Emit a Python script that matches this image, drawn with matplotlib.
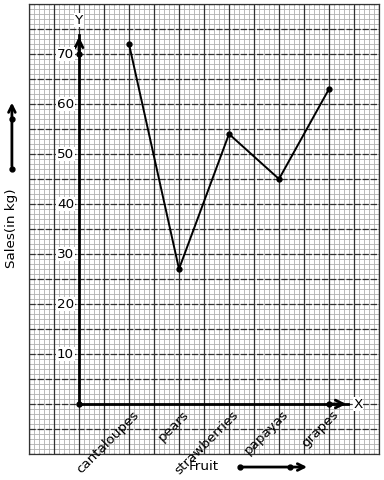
import numpy as np
import matplotlib.pyplot as plt

fruits = ["cantaloupes", "pears", "strawberries", "papayas", "grapes"]
sales = [72, 27, 54, 45, 63]
y_ticks = [10, 20, 30, 40, 50, 60, 70]

fs = 9.7

fig = plt.figure(figsize=(3.84, 4.8), dpi=100)
ax = fig.add_axes([29 / 384, 26 / 480, 350 / 384, 450 / 480])
ax.set_xlim(-1, 6)
ax.set_ylim(-10, 80)

# graph paper grid
for x in np.arange(-1, 6.001, 0.1):
    ax.axvline(x, color="#b0b0b0", lw=0.6, zorder=0)
for y in np.arange(-10, 80.001, 1):
    ax.axhline(y, color="#b0b0b0", lw=0.6, zorder=0)
for x in np.arange(-1, 6.001, 0.5):
    ax.axvline(x, color="#333333", lw=0.9, zorder=1)
for y in np.arange(-10, 80.001, 5):
    ax.axhline(y, color="#333333", lw=0.9, ls=(0, (5, 1.5)), zorder=1)

ax.set_xticks([])
ax.set_yticks([])
for s in ax.spines.values():
    s.set_color("#333333")
    s.set_linewidth(0.9)

# axes with arrows
ax.plot([0, 0], [0, 73.8], color="black", lw=2, zorder=3)
ax.plot([0, 5.38], [0, 0], color="black", lw=2, zorder=3)
ax.annotate("", xy=(0, 74), xytext=(0, 70),
            arrowprops=dict(arrowstyle="->", color="black", lw=2, mutation_scale=14), zorder=3)
ax.annotate("", xy=(5.4, 0), xytext=(5.0, 0),
            arrowprops=dict(arrowstyle="->", color="black", lw=2, mutation_scale=14), zorder=3)
ax.text(0, 76.8, "Y", ha="center", va="center", fontsize=fs,
        bbox=dict(facecolor="white", edgecolor="none", pad=0.5), zorder=4)
ax.text(5.58, 0, "X", ha="center", va="center", fontsize=fs,
        bbox=dict(facecolor="white", edgecolor="none", pad=0.5), zorder=4)
ax.plot([0, 0, 5], [0, 70, 0], "o", color="black", ms=3.5, zorder=4)

for v in y_ticks:
    ax.text(-0.1, v, str(v), ha="right", va="center", fontsize=fs,
            bbox=dict(facecolor="white", edgecolor="none", pad=0.5), zorder=4)

xs = np.arange(1, len(fruits) + 1)
for x, name in zip(xs, fruits):
    ax.text(x + 0.06, -0.8, name, rotation=45, ha="right", va="top", fontsize=fs,
            rotation_mode="anchor", zorder=4)

ax.plot(xs, sales, "-o", color="black", lw=1.4, ms=3.5, zorder=5)

# axis labels with direction arrows
fig.text(0.031, 0.525, "Sales(in kg)", rotation=90, ha="center", va="center", fontsize=fs)
fig.text(0.531, 0.029, "Fruit", ha="center", va="center", fontsize=fs)
fig.patches.append(plt.matplotlib.patches.FancyArrowPatch(
    (0.031, 0.648), (0.031, 0.792), transform=fig.transFigure, arrowstyle="->",
    color="black", lw=2, mutation_scale=12))
fig.patches.append(plt.matplotlib.patches.FancyArrowPatch(
    (0.625, 0.027), (0.807, 0.027), transform=fig.transFigure, arrowstyle="->",
    color="black", lw=2, mutation_scale=12))
fig.lines.append(plt.Line2D([0.031, 0.031], [0.648, 0.752], marker="o", ls="none",
                            color="black", ms=3.5, transform=fig.transFigure))
fig.lines.append(plt.Line2D([0.625, 0.755], [0.027, 0.027], marker="o", ls="none",
                            color="black", ms=3.5, transform=fig.transFigure))

fig.savefig("out.png", dpi=100)
